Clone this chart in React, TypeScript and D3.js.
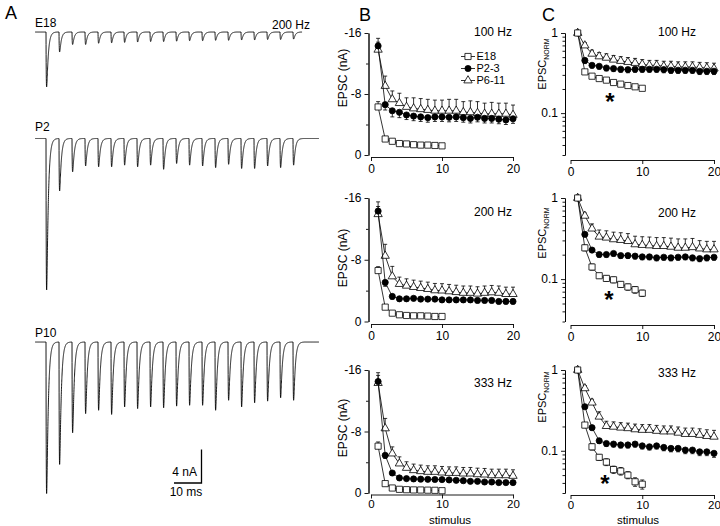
import React, { useEffect, useRef } from "react";
import * as d3 from "d3";

const FONT = "'Liberation Sans', Arial, Helvetica, sans-serif";

// stimulus numbers
const stimulus = [1, 2, 3, 4, 5, 6, 7, 8, 9, 10, 11, 12, 13, 14, 15, 16, 17, 18, 19, 20];
const stimulusE18 = [1, 2, 3, 4, 5, 6, 7, 8, 9, 10];
const freqLabels = ["100 Hz", "200 Hz", "333 Hz"];
const seriesNames = ["E18", "P2-3", "P6-11"];

// panel A: peak amplitudes (nA) of the 200 Hz example traces
const traceE18 = [6.6, 2.4, 1.5, 1.5, 1.35, 1.3, 1.25, 1.2, 1.15, 1.15, 1.1, 1.05, 1.05, 1.0, 1.0, 0.95, 0.95, 0.9, 0.9, 0.85];
const traceP2 = [18.2, 6.3, 4.0, 3.3, 3.4, 3.4, 3.2, 3.4, 3.2, 3.7, 3.0, 3.2, 3.3, 3.5, 3.1, 3.6, 3.6, 3.3, 3.5, 3.2];
const traceP10 = [18.2, 14.7, 10.9, 8.6, 8.2, 8.7, 7.8, 8.0, 7.8, 7.9, 7.7, 7.6, 7.6, 8.2, 7.0, 7.8, 7.3, 7.1, 6.7, 7.0];

// panel B: EPSC (nA), mean and SEM
const b100E18 = [-6.3, -2.1, -1.8, -1.5, -1.45, -1.35, -1.3, -1.3, -1.25, -1.2];
const b100E18Err = [0.7, 0.2, 0.2, 0.2, 0.2, 0.2, 0.2, 0.2, 0.2, 0.2];
const b100P2 = [-14.3, -6.6, -5.8, -5.6, -5.25, -5.1, -5.0, -4.9, -5.0, -5.0, -4.95, -5.0, -4.9, -4.8, -4.95, -4.8, -4.8, -4.7, -4.6, -4.75];
const b100P2Err = [1.0, 0.7, 0.8, 0.7, 0.6, 0.6, 0.6, 0.6, 0.6, 0.6, 0.6, 0.6, 0.6, 0.6, 0.6, 0.6, 0.6, 0.6, 0.6, 0.6];
const b100P6 = [-13.8, -9.05, -7.3, -6.8, -6.3, -6.1, -6.0, -5.9, -5.8, -5.8, -5.8, -5.8, -5.6, -5.6, -5.5, -5.4, -5.4, -5.4, -5.4, -5.25];
const b100P6Err = [1.0, 1.3, 1.1, 1.3, 1.2, 1.4, 1.4, 1.4, 1.4, 1.4, 1.5, 1.5, 1.4, 1.5, 1.5, 1.4, 1.5, 1.4, 1.4, 1.3];

const b200E18 = [-6.6, -1.86, -1.08, -0.87, -0.78, -0.74, -0.74, -0.7, -0.65, -0.65];
const b200E18Err = [0.5, 0.2, 0.15, 0.1, 0.1, 0.1, 0.1, 0.1, 0.1, 0.1];
const b200P2 = [-14.3, -5.06, -3.25, -2.94, -2.94, -3.0, -2.9, -2.9, -2.9, -2.8, -2.8, -2.8, -2.8, -2.8, -2.73, -2.73, -2.73, -2.6, -2.6, -2.6];
const b200P2Err = [1.2, 0.5, 0.35, 0.3, 0.3, 0.3, 0.3, 0.3, 0.3, 0.3, 0.3, 0.3, 0.3, 0.3, 0.3, 0.3, 0.3, 0.3, 0.3, 0.3];
const b200P6 = [-13.9, -8.5, -5.84, -4.85, -4.63, -4.46, -4.33, -4.2, -4.03, -4.0, -3.9, -3.8, -3.7, -3.7, -3.6, -3.7, -3.77, -3.7, -3.55, -3.55];
const b200P6Err = [1.0, 1.5, 1.3, 0.9, 0.9, 0.9, 0.9, 0.9, 0.9, 0.9, 0.9, 0.9, 0.9, 0.9, 0.9, 0.9, 0.9, 0.9, 0.9, 0.9];

const b333E18 = [-6.09, -1.22, -0.65, -0.48, -0.43, -0.4, -0.39, -0.37, -0.35, -0.3];
const b333E18Err = [0.55, 0.15, 0.1, 0.1, 0.1, 0.1, 0.1, 0.1, 0.1, 0.1];
const b333P2 = [-14.5, -4.9, -2.6, -1.96, -1.87, -1.83, -1.8, -1.78, -1.76, -1.74, -1.7, -1.65, -1.6, -1.52, -1.52, -1.43, -1.43, -1.35, -1.35, -1.35];
const b333P2Err = [1.15, 0.4, 0.3, 0.25, 0.25, 0.25, 0.25, 0.25, 0.25, 0.25, 0.25, 0.25, 0.25, 0.25, 0.25, 0.25, 0.25, 0.25, 0.25, 0.25];
const b333P6 = [-14.3, -8.4, -5.13, -3.83, -3.26, -2.96, -2.83, -2.74, -2.74, -2.65, -2.6, -2.6, -2.52, -2.52, -2.43, -2.39, -2.3, -2.3, -2.3, -2.22];
const b333P6Err = [1.0, 1.3, 0.87, 0.87, 0.8, 0.8, 0.8, 0.8, 0.8, 0.8, 0.8, 0.8, 0.8, 0.8, 0.8, 0.8, 0.8, 0.8, 0.8, 0.8];

// panel C: normalized EPSC, mean and SEM
const c100E18 = [1, 0.327, 0.289, 0.27, 0.258, 0.241, 0.23, 0.221, 0.213, 0.204];
const c100E18Err = [0, 0.02, 0.012, 0.01, 0.01, 0.01, 0.01, 0.01, 0.01, 0.01];
const c100P2 = [1, 0.455, 0.395, 0.384, 0.366, 0.36, 0.353, 0.349, 0.353, 0.353, 0.353, 0.353, 0.349, 0.343, 0.343, 0.343, 0.343, 0.333, 0.333, 0.333];
const c100P2Err = [0, 0.04, 0.03, 0.03, 0.03, 0.03, 0.03, 0.03, 0.03, 0.03, 0.03, 0.03, 0.03, 0.03, 0.03, 0.03, 0.03, 0.03, 0.03, 0.03];
const c100P6 = [1, 0.698, 0.55, 0.51, 0.49, 0.464, 0.447, 0.434, 0.422, 0.406, 0.395, 0.395, 0.384, 0.384, 0.377, 0.377, 0.377, 0.37, 0.366, 0.36];
const c100P6Err = [0, 0.06, 0.06, 0.06, 0.06, 0.06, 0.06, 0.06, 0.06, 0.06, 0.06, 0.06, 0.06, 0.06, 0.06, 0.06, 0.06, 0.06, 0.06, 0.06];

const c200E18 = [1, 0.243, 0.141, 0.11, 0.102, 0.098, 0.086, 0.08, 0.074, 0.067];
const c200E18Err = [0, 0.02, 0.012, 0.008, 0.008, 0.008, 0.007, 0.007, 0.007, 0.006];
const c200P2 = [1, 0.356, 0.228, 0.201, 0.201, 0.207, 0.195, 0.195, 0.192, 0.188, 0.188, 0.183, 0.186, 0.183, 0.186, 0.188, 0.183, 0.179, 0.183, 0.186];
const c200P2Err = [0, 0.02, 0.015, 0.015, 0.015, 0.015, 0.015, 0.015, 0.015, 0.015, 0.015, 0.015, 0.015, 0.015, 0.015, 0.015, 0.015, 0.015, 0.015, 0.015];
const c200P6 = [1, 0.603, 0.419, 0.333, 0.324, 0.309, 0.303, 0.294, 0.268, 0.263, 0.26, 0.255, 0.255, 0.25, 0.243, 0.243, 0.247, 0.238, 0.232, 0.232];
const c200P6Err = [0, 0.05, 0.06, 0.07, 0.07, 0.07, 0.07, 0.07, 0.07, 0.07, 0.07, 0.07, 0.07, 0.07, 0.07, 0.07, 0.07, 0.06, 0.06, 0.06];

const c333E18 = [1, 0.208, 0.112, 0.083, 0.0725, 0.0585, 0.056, 0.05, 0.0413, 0.0385];
const c333E18Err = [0, 0.015, 0.01, 0.007, 0.007, 0.006, 0.006, 0.005, 0.005, 0.005];
const c333P2 = [1, 0.351, 0.193, 0.133, 0.123, 0.121, 0.118, 0.118, 0.121, 0.115, 0.112, 0.115, 0.11, 0.107, 0.107, 0.102, 0.102, 0.097, 0.097, 0.093];
const c333P2Err = [0, 0.02, 0.012, 0.01, 0.01, 0.01, 0.01, 0.01, 0.01, 0.01, 0.01, 0.01, 0.01, 0.01, 0.01, 0.01, 0.01, 0.01, 0.01, 0.01];
const c333P6 = [1, 0.593, 0.394, 0.264, 0.202, 0.198, 0.193, 0.19, 0.184, 0.181, 0.181, 0.176, 0.173, 0.173, 0.167, 0.161, 0.161, 0.157, 0.152, 0.149];
const c333P6Err = [0, 0.05, 0.04, 0.04, 0.03, 0.03, 0.03, 0.03, 0.03, 0.03, 0.03, 0.03, 0.03, 0.03, 0.03, 0.03, 0.03, 0.03, 0.03, 0.03];

const bTicks = [-16, -8, 0];
const bMinorTicks = [-12, -4];
const cTicks = [0.1, 1];
const cMinorTicks = [0.03, 0.04, 0.05, 0.06, 0.07, 0.08, 0.09, 0.2, 0.3, 0.4, 0.5, 0.6, 0.7, 0.8, 0.9];
const xTicks = [0, 10, 20];

const bData = [
  { e18: b100E18, e18Err: b100E18Err, p2: b100P2, p2Err: b100P2Err, p6: b100P6, p6Err: b100P6Err },
  { e18: b200E18, e18Err: b200E18Err, p2: b200P2, p2Err: b200P2Err, p6: b200P6, p6Err: b200P6Err },
  { e18: b333E18, e18Err: b333E18Err, p2: b333P2, p2Err: b333P2Err, p6: b333P6, p6Err: b333P6Err },
];
const cData = [
  { e18: c100E18, e18Err: c100E18Err, p2: c100P2, p2Err: c100P2Err, p6: c100P6, p6Err: c100P6Err },
  { e18: c200E18, e18Err: c200E18Err, p2: c200P2, p2Err: c200P2Err, p6: c200P6, p6Err: c200P6Err },
  { e18: c333E18, e18Err: c333E18Err, p2: c333P2, p2Err: c333P2Err, p6: c333P6, p6Err: c333P6Err },
];

// layout
const rows = [
  { top: 33, bottom: 155, bAxis: 157, cAxis: 160, bFreq: 32, cFreq: 32, bLab: 78, cLab: 64, star: [610, 97] },
  { top: 198, bottom: 321.5, bAxis: 324, cAxis: 325, bFreq: 212, cFreq: 213, bLab: 258, cLab: 233, star: [609, 295] },
  { top: 370, bottom: 493, bAxis: 494.5, cAxis: 495, bFreq: 383, cFreq: 373, bLab: 428, cLab: 397, star: [605, 479] },
];

const xB = d3.scaleLinear().domain([0, 20]).range([371, 513]);
const xC = d3.scaleLinear().domain([0, 20]).range([570.5, 714]);

const symbols = {
  square: d3.symbol(d3.symbolSquare, 38)() as string,
  circle: d3.symbol(d3.symbolCircle, 30)() as string,
  triangle: d3.symbol(d3.symbolTriangle, 30)() as string,
};

function Axis({ scale, orient, ticks, size, labels, pad = 3, fontSize = 12, transform }: any) {
  const ref = useRef<SVGGElement>(null);
  useEffect(() => {
    const ax = (orient === "left" ? d3.axisLeft(scale) : d3.axisBottom(scale))
      .tickValues(ticks)
      .tickSize(size)
      .tickSizeOuter(0)
      .tickPadding(pad)
      .tickFormat(labels ? (d: any) => String(d) : () => "");
    const g = d3.select(ref.current).call(ax as any);
    g.attr("font-family", FONT).attr("font-size", fontSize);
    g.selectAll("path, line").attr("stroke", "#000").attr("stroke-width", 0.9);
    g.selectAll("text").attr("fill", "#000");
  }, [scale, orient, ticks, size, labels, pad, fontSize]);
  return <g ref={ref} transform={transform} />;
}

function Series({ xs, vals, errs, x, y, kind, dir }: any) {
  const line = d3.line<number>().x((_, i) => x(xs[i])).y((v) => y(v));
  return (
    <g>
      <path d={line(vals) as string} fill="none" stroke="#000" strokeWidth={0.8} />
      {vals.map((v: number, i: number) => {
        const e = errs[i];
        if (!e) return null;
        const d = dir(i, v, e) as number[];
        return d.map((end, j) => (
          <g key={i + "-" + j} stroke="#000" strokeWidth={0.8}>
            <line x1={x(xs[i])} x2={x(xs[i])} y1={y(v)} y2={y(end)} />
            <line x1={x(xs[i]) - 2} x2={x(xs[i]) + 2} y1={y(end)} y2={y(end)} />
          </g>
        ));
      })}
      {vals.map((v: number, i: number) => (
        <path
          key={"m" + i}
          d={symbols[kind as keyof typeof symbols]}
          transform={`translate(${x(xs[i])},${y(v)})`}
          fill={kind === "circle" ? "#000" : "#fff"}
          stroke="#000"
          strokeWidth={0.8}
        />
      ))}
    </g>
  );
}

function Trace({ amps, baseline, tEnd }: { amps: number[]; baseline: number; tEnd: number }) {
  const xT = d3.scaleLinear().domain([0, 10]).range([46, 72]);
  const yT = d3.scaleLinear().domain([0, 4]).range([baseline, baseline + 33.3]);
  const tauR = 0.12, tauD = 0.6;
  const tp = (Math.log(tauD / tauR) * tauD * tauR) / (tauD - tauR);
  const norm = Math.exp(-tp / tauD) - Math.exp(-tp / tauR);
  const ts = d3.range(-4.2, tEnd, 0.02);
  const pts = ts.map((t) => {
    let i = 0;
    amps.forEach((a, k) => {
      const s = t - k * 5;
      if (s > 0) i += (a * (Math.exp(-s / tauD) - Math.exp(-s / tauR))) / norm;
    });
    return [xT(t), yT(i)] as [number, number];
  });
  return <path d={d3.line()(pts) as string} fill="none" stroke="#000" strokeWidth={0.9} strokeLinejoin="round" />;
}

export default function App() {
  const txt = { fontFamily: FONT, fill: "#000" } as any;
  return (
    <div style={{ position: "absolute", left: 0, top: 0 }}>
      <svg width={720} height={526} style={{ display: "block", background: "#fff" }}>
        {/* panel letters */}
        <text x={5} y={19} fontSize={18} {...txt}>A</text>
        <text x={359} y={21} fontSize={18} {...txt}>B</text>
        <text x={542} y={21} fontSize={18} {...txt}>C</text>

        {/* panel A traces */}
        <text x={35} y={27} fontSize={12} {...txt}>E18</text>
        <text x={310} y={29} fontSize={12} textAnchor="end" {...txt}>200 Hz</text>
        <Trace amps={traceE18} baseline={32} tEnd={98.5} />
        <text x={35} y={131} fontSize={12} {...txt}>P2</text>
        <Trace amps={traceP2} baseline={138.5} tEnd={105} />
        <text x={35} y={337} fontSize={12} {...txt}>P10</text>
        <Trace amps={traceP10} baseline={342} tEnd={105} />

        {/* scale bar */}
        <path d="M174,483H201.5V449.5" fill="none" stroke="#000" strokeWidth={1.3} />
        <text x={197} y={476} fontSize={12} textAnchor="end" {...txt}>4 nA</text>
        <text x={186} y={496} fontSize={12} textAnchor="middle" {...txt}>10 ms</text>

        {rows.map((r, ri) => {
          const yB = d3.scaleLinear().domain([0, -16]).range([r.bottom, r.top]);
          const yC = d3.scaleLog().domain([0.03, 1]).range([r.bottom, r.top]);
          const bd = bData[ri];
          const cd = cData[ri];
          const last = ri === 2;
          const pad = last ? 1.5 : 3;
          const fs = last ? 11.5 : 12;
          return (
            <g key={ri}>
              {/* panel B */}
              <Axis scale={yB} orient="left" ticks={bTicks} size={4} labels transform="translate(368.5,0)" />
              <Axis scale={yB} orient="left" ticks={bMinorTicks} size={2.5} transform="translate(368.5,0)" />
              <Axis scale={xB} orient="bottom" ticks={xTicks} size={4} pad={pad} fontSize={fs} labels transform={`translate(0,${r.bAxis})`} />
              <text transform={`translate(347,${r.bLab}) rotate(-90)`} fontSize={12} textAnchor="middle" {...txt}>EPSC (nA)</text>
              <text x={512} y={r.bFreq + 4} fontSize={12} textAnchor="end" {...txt}>{freqLabels[ri]}</text>
              <Series xs={stimulus} vals={bd.p6} errs={bd.p6Err} x={xB} y={yB} kind="triangle" dir={(i: number, v: number, e: number) => [v - e]} />
              <Series xs={stimulus} vals={bd.p2} errs={bd.p2Err} x={xB} y={yB} kind="circle" dir={(i: number, v: number, e: number) => [i === 0 ? v - e : v + e]} />
              <Series xs={stimulusE18} vals={bd.e18} errs={bd.e18Err} x={xB} y={yB} kind="square" dir={(i: number, v: number, e: number) => [v - e]} />

              {/* panel C */}
              <Axis scale={yC} orient="left" ticks={cTicks} size={4} labels transform="translate(565,0)" />
              <Axis scale={yC} orient="left" ticks={cMinorTicks} size={2.5} transform="translate(565,0)" />
              <Axis scale={xC} orient="bottom" ticks={xTicks} size={4} pad={pad} fontSize={fs} labels transform={`translate(0,${r.cAxis})`} />
              <text transform={`translate(546,${r.cLab}) rotate(-90)`} fontSize={11} textAnchor="middle" {...txt}>
                EPSC<tspan fontSize={7} dy={3}>NORM</tspan>
              </text>
              <text x={658} y={r.cFreq + 4} fontSize={12} {...txt}>{freqLabels[ri]}</text>
              <Series xs={stimulus} vals={cd.p6} errs={cd.p6Err} x={xC} y={yC} kind="triangle" dir={(i: number, v: number, e: number) => [v + e]} />
              <Series xs={stimulus} vals={cd.p2} errs={cd.p2Err} x={xC} y={yC} kind="circle" dir={(i: number, v: number, e: number) => [v - e]} />
              <Series xs={stimulusE18} vals={cd.e18} errs={cd.e18Err} x={xC} y={yC} kind="square" dir={(i: number, v: number, e: number) => [v + e, v - e]} />
              <text x={r.star[0]} y={r.star[1] + 13} fontSize={24} fontWeight="bold" textAnchor="middle" {...txt}>*</text>
            </g>
          );
        })}

        {/* legend */}
        {seriesNames.map((n, i) => {
          const y = 56.5 + i * 12;
          const kind = ["square", "circle", "triangle"][i] as keyof typeof symbols;
          return (
            <g key={n}>
              <line x1={461} x2={475} y1={y} y2={y} stroke="#000" strokeWidth={0.8} />
              <path d={symbols[kind]} transform={`translate(468,${y})`} fill={kind === "circle" ? "#000" : "#fff"} stroke="#000" strokeWidth={0.8} />
              <text x={476.5} y={y + 3.8} fontSize={11} {...txt}>{n}</text>
            </g>
          );
        })}

        <text x={450} y={523.5} fontSize={11.5} textAnchor="middle" {...txt}>stimulus</text>
        <text x={638} y={523.5} fontSize={11.5} textAnchor="middle" {...txt}>stimulus</text>
      </svg>
    </div>
  );
}
